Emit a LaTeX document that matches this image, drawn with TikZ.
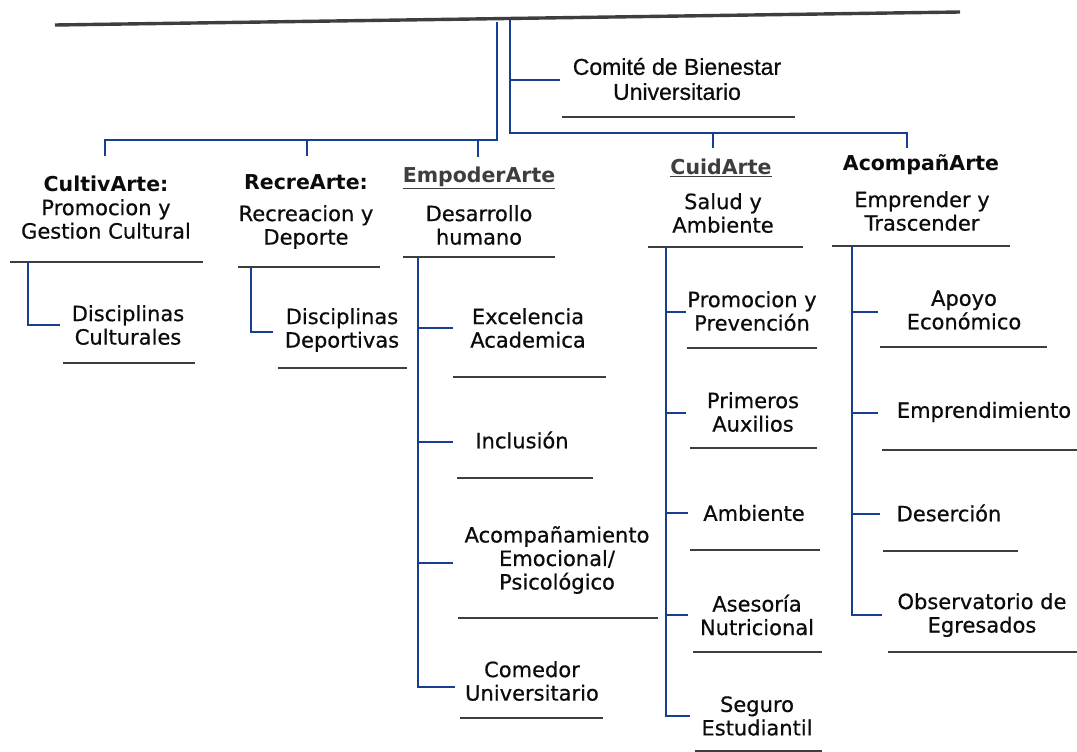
\documentclass[tikz,border=0pt]{standalone}
\usepackage{fontspec}
\setmainfont{DejaVu Sans}
\newfontfamily\bodyfont{DejaVu Sans}[FakeBold=0.6]
\newfontfamily\comfont{Liberation Sans}[FakeBold=0.5]
\definecolor{linkblue}{RGB}{22,62,145}
\definecolor{ulgray}{RGB}{62,62,62}
\definecolor{txtc}{RGB}{12,12,12}
\tikzset{
  conn/.style={draw=linkblue, line width=2.7pt},
  uline/.style={draw=ulgray, line width=2.9pt},
  topline/.style={draw=ulgray, line width=3.4pt},
  txt/.style={font=\bodyfont\fontsize{21}{23.5}\selectfont, align=center, text=txtc, inner sep=0pt},
  head/.style={font=\fontsize{20.5}{23.5}\selectfont\bfseries, align=center, text=txtc, inner sep=0pt},
  headu/.style={font=\fontsize{20.5}{23.5}\selectfont\bfseries, align=center, text=ulgray, inner sep=0pt},
}
\begin{document}
\begin{tikzpicture}[x=1pt,y=-1pt]
\useasboundingbox[fill=white] (0,0) rectangle (1077,752);

% top line and main trunks
\coordinate (tl) at (55,25);
\coordinate (tr) at (960,12);
\draw[topline] (tl) -- (tr);

\coordinate (vLt) at (497,22);
\coordinate (vLb) at (497,140);
\coordinate (vRt) at (510,20);
\coordinate (vRb) at (510,133);

% Comite
\node[font=\comfont\fontsize{23}{25}\selectfont, align=center, text=txtc, inner sep=0pt] (comite) at (677,79) {Comité de Bienestar\\Universitario};
\coordinate (comJ) at (510,80);
\coordinate (comE) at (560,80);
\draw[uline] (562,117) -- (795,117);

% level 1 headings
\node[head] (cultH) at (106,184) {CultivArte:};
\node[txt]  (cultD) at (106,219) {Promocion y\\Gestion Cultural};
\node[head] (recH)  at (306,182) {RecreArte:};
\node[txt]  (recD)  at (306,227) {Recreacion y\\Deporte};
\node[headu] (empH) at (479,178) {\underline{EmpoderArte}};
\node[txt]  (empD)  at (479,225) {Desarrollo\\humano};
\node[headu] (cuiH) at (721,168) {\underline{CuidArte}};
\node[txt]  (cuiD)  at (723,213) {Salud y\\Ambiente};
\node[head] (acoH)  at (921,165) {AcompañArte};
\node[txt]  (acoD)  at (922,211) {Emprender y\\Trascender};

\draw[uline] (10,262) -- (203,262);
\draw[uline] (238,267) -- (380,267);
\draw[uline] (403,257) -- (555,257);
\draw[uline] (648,247) -- (803,247);
\draw[uline] (832,246) -- (1010,246);

% drop coordinates
\coordinate (cultT) at (105,156);
\coordinate (recT)  at (307,156);
\coordinate (empT)  at (478,157);
\coordinate (cuiT)  at (713,148);
\coordinate (acoT)  at (907,148);

\draw[conn] (vLt) -- (vLb) -| (cultT);
\draw[conn] (vLb) -| (recT);
\draw[conn] (vLb) -| (empT);
\draw[conn] (vRt) -- (vRb) -| (acoT);
\draw[conn] (vRb) -| (cuiT);
\draw[conn] (comJ) -- (comE);

% CultivArte child
\coordinate (cultS) at (28,262);
\coordinate (cultB) at (60,325);
\node[txt] (cultC) at (128,325) {Disciplinas\\Culturales};
\draw[conn] (cultS) |- (cultB);
\draw[uline] (63,363) -- (195,363);

% RecreArte child
\coordinate (recS) at (251,267);
\coordinate (recB) at (273,332);
\node[txt] (recC) at (342,330) {Disciplinas\\Deportivas};
\draw[conn] (recS) |- (recB);
\draw[uline] (278,368) -- (407,368);

% EmpoderArte children
\coordinate (empS) at (418,257);
\node[txt] (e1) at (528,328) {Excelencia\\Academica};
\node[txt] (e2) at (522,440) {Inclusión};
\node[txt] (e3) at (557,560) {Acompañamiento\\Emocional/\\Psicológico};
\node[txt] (e4) at (532,681) {Comedor\\Universitario};
\coordinate (e1b) at (453,328);
\coordinate (e2b) at (453,442);
\coordinate (e3b) at (453,563);
\coordinate (e4b) at (455,687);
\draw[conn] (empS) |- (e1b);
\draw[conn] (empS) |- (e2b);
\draw[conn] (empS) |- (e3b);
\draw[conn] (empS) |- (e4b);
\draw[uline] (453,377) -- (606,377);
\draw[uline] (457,478) -- (593,478);
\draw[uline] (458,618) -- (658,618);
\draw[uline] (460,718) -- (603,718);

% CuidArte children
\coordinate (cuiS) at (666,247);
\node[txt] (c1) at (752,311) {Promocion y\\Prevención};
\node[txt] (c2) at (753,412) {Primeros\\Auxilios};
\node[txt] (c3) at (754,513) {Ambiente};
\node[txt] (c4) at (757,615) {Asesoría\\Nutricional};
\node[txt] (c5) at (757,716) {Seguro\\Estudiantil};
\coordinate (c1b) at (686,312);
\coordinate (c2b) at (686,413);
\coordinate (c3b) at (688,513);
\coordinate (c4b) at (688,615);
\coordinate (c5b) at (690,716);
\draw[conn] (cuiS) |- (c1b);
\draw[conn] (cuiS) |- (c2b);
\draw[conn] (cuiS) |- (c3b);
\draw[conn] (cuiS) |- (c4b);
\draw[conn] (cuiS) |- (c5b);
\draw[uline] (687,348) -- (817,348);
\draw[uline] (690,448) -- (817,448);
\draw[uline] (690,550) -- (820,550);
\draw[uline] (693,652) -- (822,652);
\draw[uline] (695,751) -- (822,751);

% AcompanArte children
\coordinate (acoS) at (852,246);
\node[txt] (a1) at (964,310) {Apoyo\\Económico};
\node[txt] (a2) at (984,412) {Emprendimiento};
\node[txt] (a3) at (949,513) {Deserción};
\node[txt] (a4) at (982,615) {Observatorio de\\Egresados};
\coordinate (a1b) at (878,312);
\coordinate (a2b) at (878,413);
\coordinate (a3b) at (880,514);
\coordinate (a4b) at (882,615);
\draw[conn] (acoS) |- (a1b);
\draw[conn] (acoS) |- (a2b);
\draw[conn] (acoS) |- (a3b);
\draw[conn] (acoS) |- (a4b);
\draw[uline] (880,347) -- (1047,347);
\draw[uline] (882,450) -- (1077,450);
\draw[uline] (883,551) -- (1018,551);
\draw[uline] (888,652) -- (1077,652);
\end{tikzpicture}
\end{document}
